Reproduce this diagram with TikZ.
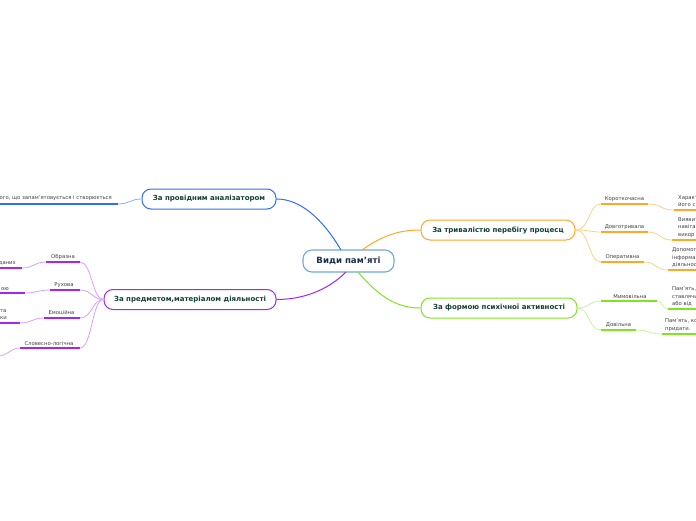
\documentclass[tikz,border=0pt]{standalone}
\usepackage{fontspec}
\setmainfont{DejaVu Sans}
\usetikzlibrary{calc}
\definecolor{cblue}{HTML}{2E6BFF}
\definecolor{cbluel}{HTML}{8FAEFF}
\definecolor{corange}{HTML}{FFA726}
\definecolor{corangel}{HTML}{FFD08A}
\definecolor{cgreen}{HTML}{7FE51F}
\definecolor{cgreenl}{HTML}{C8F59C}
\definecolor{cpurple}{HTML}{A526EE}
\definecolor{cpurplel}{HTML}{D9A0FA}
\definecolor{ccenter}{HTML}{6FA8DC}
\definecolor{ctext}{HTML}{143F35}
\definecolor{cnavy}{HTML}{1F2D4D}
\definecolor{cgray}{HTML}{404040}
\tikzset{
  centerbox/.style={draw=ccenter, line width=1.1pt, rounded corners=9pt, fill=white,
    minimum width=91pt, minimum height=22pt, inner sep=0pt, text=cnavy,
    font=\fontsize{8.6}{9}\selectfont\bfseries},
  topicbox/.style={draw=#1, line width=1pt, rounded corners=9pt, fill=white,
    minimum height=20pt, inner sep=0pt, text=ctext,
    font=\fontsize{7}{8}\selectfont\bfseries},
  subtext/.style={inner sep=0pt, text=cgray, font=\fontsize{5.3}{6}\selectfont},
  leaftext/.style={inner sep=0pt, text=cgray, font=\fontsize{5.3}{7.4}\selectfont, align=left},
  mainlink/.style={draw=#1, line width=1pt},
  sublink/.style={draw=#1, line width=0.8pt},
  uline/.style={draw=#1, line width=1.8pt},
}
\begin{document}
\begin{tikzpicture}[x=1pt,y=-1pt]
\useasboundingbox (0,0) rectangle (696,520);
\clip (0,0) rectangle (696,520);

% central node
\node[centerbox] (c) at (348.5,261) {Види пам’яті};

% topics
\node[topicbox=cblue, minimum width=134pt] (t1) at (209,199) {За провідним аналізатором};
\node[topicbox=corange, minimum width=154pt] (t2) at (498,230) {За тривалістю перебігу процесц};
\node[topicbox=cgreen, minimum width=156pt] (t3) at (499,308) {За формою психічної активності};
\node[topicbox=cpurple, minimum width=172pt] (t4) at (190,299.5) {За предметом,матеріалом діяльності};

% main links
\coordinate (cb) at (341,250);
\coordinate (co) at (362,250);
\coordinate (cg) at (358,272);
\coordinate (cp) at (346,272);
\draw[mainlink=cblue] (cb) .. controls (322,218) and (300,199) .. (t1.east);
\draw[mainlink=corange] (co) .. controls (382,236) and (398,230) .. (t2.west);
\draw[mainlink=cgreen] (cg) .. controls (380,298) and (398,308) .. (t3.west);
\draw[mainlink=cpurple] (cp) .. controls (326,292) and (300,299.5) .. (t4.east);

% ---------- blue branch ----------
\coordinate (b1r) at (118,204);
\coordinate (b1l) at (-2,204);
\node[subtext, anchor=south east] (b1t) at (112,201) {ого, що запам’ятовується і створюється};
\draw[sublink=cbluel] (t1.west) .. controls (130,199) and (130,204) .. (b1r);
\draw[uline=cblue] (b1l) -- (b1r);

% ---------- orange branch ----------
% Короткочасна
\coordinate (o1l) at (601,204);
\coordinate (o1r) at (648,204);
\node[subtext, anchor=south] (o1t) at (624.5,201.5) {Короткочасна};
\draw[sublink=corangel] (t2.east) .. controls (590,230) and (588,204) .. (o1l);
\draw[uline=corange] (o1l) -- (o1r);
\coordinate (o1cl) at (674,210);
\coordinate (o1cr) at (698,210);
\node[leaftext, anchor=south west] (o1c) at (678,207) {Характ\\його с};
\draw[sublink=corangel] (o1r) .. controls (662,204) and (660,210) .. (o1cl);
\draw[uline=corange] (o1cl) -- (o1cr);
% Довготривала
\coordinate (o2l) at (601,232);
\coordinate (o2r) at (648,232);
\node[subtext, anchor=south] (o2t) at (624.5,229.5) {Довготривала};
\draw[sublink=corangel] (t2.east) .. controls (590,230) and (590,232) .. (o2l);
\draw[uline=corange] (o2l) -- (o2r);
\coordinate (o2cl) at (672,240);
\coordinate (o2cr) at (698,240);
\node[leaftext, anchor=south west] (o2c) at (678,237.5) {Виявит\\навіга\\викор};
\draw[sublink=corangel] (o2r) .. controls (661,232) and (659,240) .. (o2cl);
\draw[uline=corange] (o2cl) -- (o2cr);
% Оперативна
\coordinate (o3l) at (601,262);
\coordinate (o3r) at (644,262);
\node[subtext, anchor=south] (o3t) at (622.5,259.5) {Оперативна};
\draw[sublink=corangel] (t2.east) .. controls (590,230) and (588,262) .. (o3l);
\draw[uline=corange] (o3l) -- (o3r);
\coordinate (o3cl) at (668,270);
\coordinate (o3cr) at (698,270);
\node[leaftext, anchor=south west] (o3c) at (672,267.5) {Допомог\\інформа\\діяльнос};
\draw[sublink=corangel] (o3r) .. controls (657,262) and (655,270) .. (o3cl);
\draw[uline=corange] (o3cl) -- (o3cr);

% ---------- green branch ----------
\coordinate (g1l) at (601,301);
\coordinate (g1r) at (657,301);
\node[subtext, anchor=south] (g1t) at (630,298.5) {Мимовільна};
\draw[sublink=cgreenl] (t3.east) .. controls (590,308) and (588,301) .. (g1l);
\draw[uline=cgreen] (g1l) -- (g1r);
\coordinate (g1cl) at (668,309);
\coordinate (g1cr) at (698,309);
\node[leaftext, anchor=south west] (g1c) at (672,306.5) {Пам’ять,\\ставлячи\\або від};
\draw[sublink=cgreenl] (g1r) .. controls (663,301) and (662,309) .. (g1cl);
\draw[uline=cgreen] (g1cl) -- (g1cr);
\coordinate (g2l) at (601,330);
\coordinate (g2r) at (636,330);
\node[subtext, anchor=south] (g2t) at (618.5,327.5) {Довільна};
\draw[sublink=cgreenl] (t3.east) .. controls (590,308) and (588,330) .. (g2l);
\draw[uline=cgreen] (g2l) -- (g2r);
\coordinate (g2cl) at (662,334);
\coordinate (g2cr) at (698,334);
\node[leaftext, anchor=south west] (g2c) at (665,331.5) {Пам’ять, ко\\придати.};
\draw[sublink=cgreenl] (g2r) .. controls (650,330) and (648,334) .. (g2cl);
\draw[uline=cgreen] (g2cl) -- (g2cr);

% ---------- purple branch ----------
% Образна
\coordinate (p1l) at (46,262);
\coordinate (p1r) at (80,262);
\node[subtext, anchor=south] (p1t) at (63,259.5) {Образна};
\draw[sublink=cpurplel] (t4.west) .. controls (92,299.5) and (92,262) .. (p1r);
\draw[uline=cpurple] (p1l) -- (p1r);
\coordinate (p1cl) at (-2,268);
\coordinate (p1cr) at (22,268);
\node[leaftext, anchor=south east] (p1c) at (16,265.5) {даних};
\draw[sublink=cpurplel] (p1l) .. controls (34,262) and (34,268) .. (p1cr);
\draw[uline=cpurple] (p1cl) -- (p1cr);
% Рухова
\coordinate (p2l) at (50,290);
\coordinate (p2r) at (80,290);
\node[subtext, anchor=south] (p2t) at (64,287.5) {Рухова};
\draw[sublink=cpurplel] (t4.west) .. controls (92,299.5) and (92,290) .. (p2r);
\draw[uline=cpurple] (p2l) -- (p2r);
\coordinate (p2cl) at (-2,293);
\coordinate (p2cr) at (25,293);
\node[leaftext, anchor=south east] (p2c) at (9,290.5) {ою};
\draw[sublink=cpurplel] (p2l) .. controls (38,290) and (37,293) .. (p2cr);
\draw[uline=cpurple] (p2cl) -- (p2cr);
% Емоційна
\coordinate (p3l) at (44,318);
\coordinate (p3r) at (80,318);
\node[subtext, anchor=south] (p3t) at (61.5,315.5) {Емоційна};
\draw[sublink=cpurplel] (t4.west) .. controls (92,299.5) and (92,318) .. (p3r);
\draw[uline=cpurple] (p3l) -- (p3r);
\coordinate (p3cl) at (-2,323);
\coordinate (p3cr) at (20,323);
\node[leaftext, anchor=south east] (p3c) at (7,320) {та\\ки};
\draw[sublink=cpurplel] (p3l) .. controls (32,318) and (32,323) .. (p3cr);
\draw[uline=cpurple] (p3cl) -- (p3cr);
% Словесно-логічна
\coordinate (p4l) at (20,348);
\coordinate (p4r) at (80,348);
\node[subtext, anchor=south] (p4t) at (49,345.5) {Словесно-логічна};
\draw[sublink=cpurplel] (t4.west) .. controls (92,299.5) and (92,348) .. (p4r);
\draw[uline=cpurple] (p4l) -- (p4r);
\coordinate (p4c) at (-2,356);
\draw[sublink=cpurplel] (p4l) .. controls (10,348) and (8,356) .. (p4c);
\end{tikzpicture}
\end{document}
